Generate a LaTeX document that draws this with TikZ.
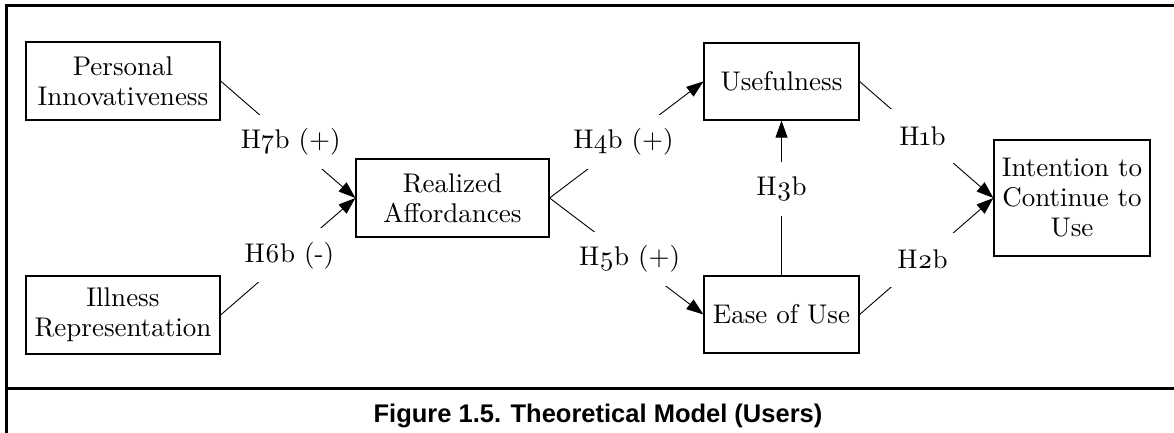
\documentclass[tikz,border=0pt]{standalone}
\usepackage{fontspec}
\setmainfont{lmroman10-regular.otf}[Numbers=OldStyle]
\newfontfamily\capfont{Liberation Sans}
\usetikzlibrary{arrows.meta}

\begin{document}
\begin{tikzpicture}[x=1pt,y=-1pt,
  txt/.style={font=\fontsize{27}{30}\selectfont},
  box/.style={txt, draw, line width=1.2pt, align=center, inner sep=0pt},
  link/.style={line width=0.9pt},
  arr/.style={link, -{Triangle[length=17pt,width=12pt]}},
  hyp/.style={txt, fill=white, inner xsep=10pt, inner ysep=0pt, minimum height=54pt},
  frame/.style={line width=3pt}
]
\useasboundingbox (0,0) rectangle (1174,433);

% outer frame and caption rule
\draw[frame] (6.7,440) -- (6.7,5.5) -- (1180,5.5);
\draw[frame] (6.7,388) -- (1180,388);

% constructs
\node[box, minimum width=194pt, minimum height=78pt] (pi) at (123,81)
  {Personal\\Innovativeness};
\node[box, minimum width=194pt, minimum height=78pt] (ir) at (123,315)
  {Illness\\Representation};
\node[box, minimum width=193pt, minimum height=78pt] (ra) at (452.5,198)
  {Realized\\Affordances};
\node[box, minimum width=155pt, minimum height=77pt] (us) at (781.5,81.5)
  {Usefulness};
\node[box, minimum width=155pt, minimum height=77pt] (eu) at (781.5,314.5)
  {Ease of Use};
\node[box, minimum width=156pt, minimum height=116pt] (ic) at (1072,198)
  {Intention to\\Continue to\\Use};

% hypothesised paths
\draw[arr] (pi.east) -- node[hyp, pos=.52] {H7b (+)} (ra.west);
\draw[arr] (ir.east) -- node[hyp, pos=.51] {H6b (-)} (ra.west);
\draw[arr] (ra.east) -- node[hyp, pos=.48] {H4b (+)} (us.west);
\draw[arr] (ra.east) -- node[hyp, pos=.52] {H5b (+)} (eu.west);
\draw[arr] (eu.north) -- node[hyp, pos=.56] {H3b} (us.south);
\draw[arr] (us.east) -- node[hyp, pos=.47] {H1b} (ic.west);
\draw[arr] (eu.east) -- node[hyp, pos=.47] {H2b} (ic.west);

% caption
\node[font=\capfont\bfseries\fontsize{25.5}{30}\selectfont, anchor=base] (cap)
  at (598,422) {Figure 1.5. Theoretical Model (Users)};
\end{tikzpicture}
\end{document}
